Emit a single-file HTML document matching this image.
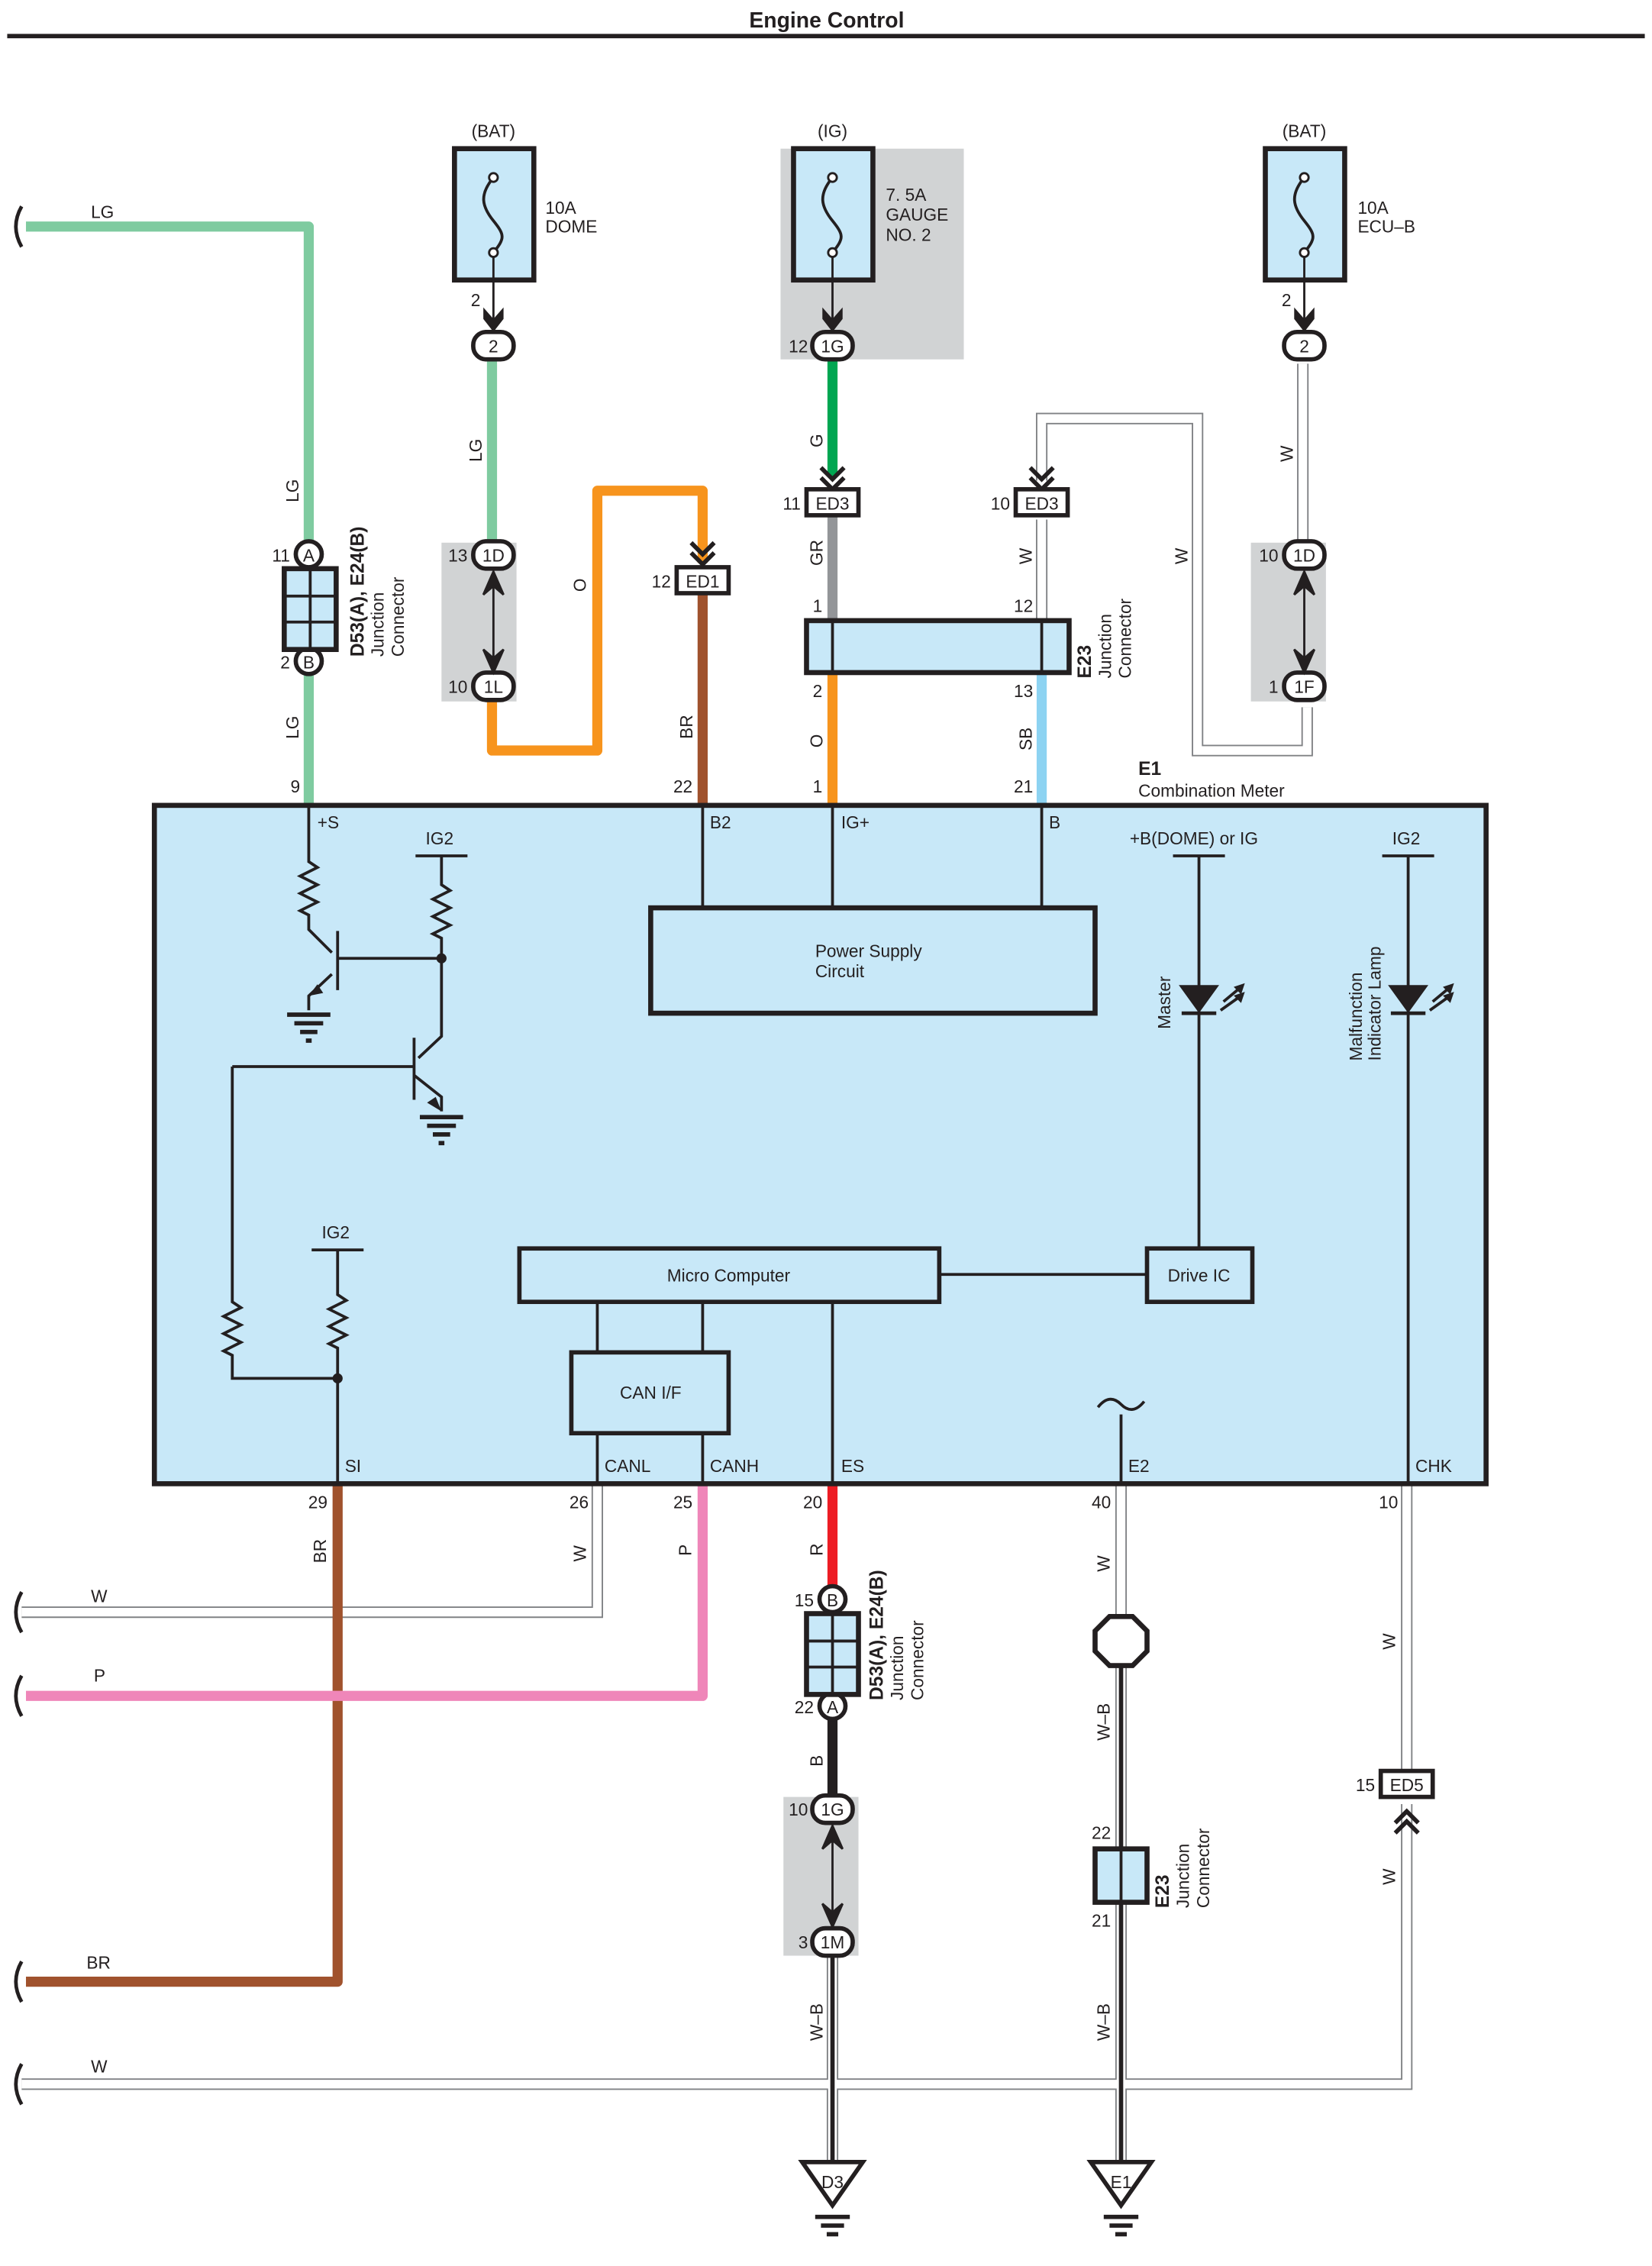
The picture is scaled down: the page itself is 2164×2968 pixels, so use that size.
<!DOCTYPE html>
<html><head><meta charset="utf-8"><style>
html,body{margin:0;padding:0;background:#fff}
svg{display:block}
text{font-family:"Liberation Sans",sans-serif;font-size:12px;fill:#231f20}
.b{font-weight:bold}
</style></head><body>
<svg width="2164" height="2968" viewBox="0 0 1145 1570" preserveAspectRatio="none" xmlns="http://www.w3.org/2000/svg">
<defs>
<g id="fuse"><rect x="-27" y="0" width="55" height="91" fill="#c8e8f8" stroke="#231f20" stroke-width="3.5"/><path d="M0,20 C-10,32 -8,40 0,50 C8,60 8,62 0,72" fill="none" stroke="#231f20" stroke-width="2"/><circle cx="0" cy="20" r="3" fill="#fff" stroke="#231f20" stroke-width="1.5"/><circle cx="0" cy="72" r="3" fill="#fff" stroke="#231f20" stroke-width="1.5"/><line x1="0" y1="75" x2="0" y2="125" stroke="#231f20" stroke-width="1.5"/><path d="M-7,110 L0,118 L7,110 L7,118 L0,127 L-7,118Z" fill="#231f20"/></g>
<g id="chev"><path d="M-8,-12 L0,-4 L8,-12 M-8,-5 L0,3 L8,-5" fill="none" stroke="#231f20" stroke-width="3"/></g>
<g id="gnd"><path d="M-21,0 L21,0 L0,30Z" fill="#fff" stroke="#231f20" stroke-width="3"/><line x1="-12" y1="38" x2="12" y2="38" stroke="#231f20" stroke-width="3"/><line x1="-8" y1="44" x2="8" y2="44" stroke="#231f20" stroke-width="3"/><line x1="-4" y1="50" x2="4" y2="50" stroke="#231f20" stroke-width="3"/></g>
<g id="sgnd"><line x1="-15" y1="0" x2="15" y2="0" stroke="#231f20" stroke-width="3"/><line x1="-10" y1="6" x2="10" y2="6" stroke="#231f20" stroke-width="3"/><line x1="-6" y1="12" x2="6" y2="12" stroke="#231f20" stroke-width="3"/><line x1="-2" y1="18" x2="2" y2="18" stroke="#231f20" stroke-width="3"/></g>
<g id="jc"><rect x="-18" y="0" width="36" height="56" fill="#c8e8f8" stroke="#231f20" stroke-width="3.5"/><line x1="0" y1="0" x2="0" y2="56" stroke="#231f20" stroke-width="2"/><line x1="-18" y1="19" x2="18" y2="19" stroke="#231f20" stroke-width="2"/><line x1="-18" y1="37" x2="18" y2="37" stroke="#231f20" stroke-width="2"/></g>
</defs>

<text x="573" y="19" text-anchor="middle" class="b" style="font-size:15px">Engine Control</text>
<line x1="5" y1="25" x2="1140" y2="25" stroke="#231f20" stroke-width="3"/>

<!-- gray backgrounds -->
<rect x="541" y="103" width="127" height="146" fill="#d1d3d4"/>
<rect x="306" y="376" width="52" height="110" fill="#d1d3d4"/>
<rect x="867" y="376" width="52" height="110" fill="#d1d3d4"/>
<rect x="543" y="1245" width="52" height="110" fill="#d1d3d4"/>

<!-- W wires (double) -->
<g fill="none" stroke="#808285" stroke-width="8">
<path d="M722,333 V290 H830 V520 H906 V490"/><path d="M722,360 V430"/><path d="M903,252 V380"/>
<path d="M414,1028 V1117 H15"/><path d="M777,1028 V1120"/><path d="M975,1028 V1228"/><path d="M975,1250 V1444 H15"/>
<path d="M577,1355 V1497"/><path d="M777,1150 V1497"/>
</g>
<g fill="none" stroke="#fff" stroke-width="6">
<path d="M722,333 V290 H830 V520 H906 V490"/><path d="M722,360 V430"/><path d="M903,252 V380"/>
<path d="M414,1028 V1117 H15"/><path d="M777,1028 V1120"/><path d="M975,1028 V1228"/><path d="M975,1250 V1444 H15"/>
<path d="M577,1355 V1497"/><path d="M777,1150 V1497"/>
</g>
<g fill="none" stroke="#231f20" stroke-width="3"><path d="M577,1355 V1497"/><path d="M777,1150 V1497"/></g>

<!-- colored wires -->
<g fill="none" stroke-width="7" stroke-linejoin="round">
<path d="M18,157 H214 V557" stroke="#7fcba0"/>
<path d="M341,250 V380" stroke="#7fcba0"/>
<path d="M341,486 V520 H414 V340 H487 V390" stroke="#f7941d"/>
<path d="M487,412 V557" stroke="#a0522d"/>
<path d="M577,250 V330" stroke="#00a651"/>
<path d="M577,358 V430" stroke="#939598"/>
<path d="M577,466 V557" stroke="#f7941d"/>
<path d="M722,466 V557" stroke="#8dd3f2"/>
<path d="M234,1028 V1373 H18" stroke="#a0522d"/>
<path d="M487,1028 V1175 H18" stroke="#ef86b9"/>
<path d="M577,1028 V1105" stroke="#ed1c24"/>
<path d="M577,1190 V1245" stroke="#231f20"/>
</g>

<!-- squiggles -->
<g fill="none" stroke="#231f20" stroke-width="2.5">
<path d="M15,143 q-8,14 0,28"/><path d="M15,1103 q-8,14 0,28"/><path d="M15,1161 q-8,14 0,28"/><path d="M15,1359 q-8,14 0,28"/><path d="M15,1430 q-8,14 0,28"/>
</g>
<text x="63" y="151">LG</text><text x="63" y="1110">W</text><text x="65" y="1165">P</text><text x="60" y="1364">BR</text><text x="63" y="1436">W</text>

<!-- fuses -->
<text x="342" y="95" text-anchor="middle">(BAT)</text><use href="#fuse" x="342" y="103"/>
<text x="378" y="148">10A</text><text x="378" y="161">DOME</text>
<text x="577" y="95" text-anchor="middle">(IG)</text><use href="#fuse" x="577" y="103"/>
<text x="614" y="139">7. 5A</text><text x="614" y="153">GAUGE</text><text x="614" y="167">NO. 2</text>
<text x="904" y="95" text-anchor="middle">(BAT)</text><use href="#fuse" x="904" y="103"/>
<text x="941" y="148">10A</text><text x="941" y="161">ECU–B</text>

<!-- oval connectors -->
<g fill="#fff" stroke="#231f20" stroke-width="3">
<rect x="328" y="230" width="28" height="19" rx="9"/><rect x="563" y="230" width="28" height="19" rx="9"/><rect x="890" y="230" width="28" height="19" rx="9"/>
<rect x="328" y="375" width="28" height="19" rx="9"/><rect x="328" y="466" width="28" height="19" rx="9"/>
<rect x="890" y="375" width="28" height="19" rx="9"/><rect x="890" y="466" width="28" height="19" rx="9"/>
<rect x="563" y="1244" width="28" height="19" rx="9"/><rect x="563" y="1336" width="28" height="19" rx="9"/>
<circle cx="214" cy="384" r="9"/><circle cx="214" cy="458" r="9"/><circle cx="577" cy="1108" r="9"/><circle cx="577" cy="1182" r="9"/>
</g>
<g text-anchor="middle">
<text x="342" y="244">2</text><text x="577" y="244">1G</text><text x="904" y="244">2</text>
<text x="342" y="389">1D</text><text x="342" y="480">1L</text><text x="904" y="389">1D</text><text x="904" y="480">1F</text>
<text x="577" y="1258">1G</text><text x="577" y="1350">1M</text>
<text x="214" y="389">A</text><text x="214" y="463">B</text><text x="577" y="1113">B</text><text x="577" y="1187">A</text>
</g>
<text x="333" y="212" text-anchor="end">2</text><text x="895" y="212" text-anchor="end">2</text>
<text x="560" y="244" text-anchor="end">12</text>
<text x="324" y="389" text-anchor="end">13</text><text x="324" y="480" text-anchor="end">10</text>
<text x="886" y="389" text-anchor="end">10</text><text x="886" y="480" text-anchor="end">1</text>
<text x="560" y="1258" text-anchor="end">10</text><text x="560" y="1350" text-anchor="end">3</text>
<text x="201" y="389" text-anchor="end">11</text><text x="201" y="463" text-anchor="end">2</text>
<text x="564" y="1113" text-anchor="end">15</text><text x="564" y="1187" text-anchor="end">22</text>

<!-- bidirectional arrows in gray boxes -->
<g stroke="#231f20" stroke-width="1.5" fill="#231f20">
<line x1="342" y1="396" x2="342" y2="465"/><path d="M335,412 L342,396 L349,412 L342,406Z"/><path d="M335,450 L342,466 L349,450 L342,456Z"/>
<line x1="904" y1="396" x2="904" y2="465"/><path d="M897,412 L904,396 L911,412 L904,406Z"/><path d="M897,450 L904,466 L911,450 L904,456Z"/>
<line x1="577" y1="1265" x2="577" y2="1335"/><path d="M570,1281 L577,1265 L584,1281 L577,1275Z"/><path d="M570,1319 L577,1335 L584,1319 L577,1325Z"/>
</g>

<!-- junction D53 -->
<use href="#jc" x="215" y="394"/><use href="#jc" x="577" y="1118"/>
<g transform="translate(252,455) rotate(-90)"><text class="b" style="font-size:13px">D53(A), E24(B)</text><text y="14">Junction</text><text y="28">Connector</text></g>
<g transform="translate(612,1178) rotate(-90)"><text class="b" style="font-size:13px">D53(A), E24(B)</text><text y="14">Junction</text><text y="28">Connector</text></g>

<!-- ED connectors -->
<use href="#chev" x="487" y="388"/><use href="#chev" x="577" y="336"/><use href="#chev" x="722" y="336"/>
<g fill="#fff" stroke="#231f20" stroke-width="3">
<rect x="469" y="393" width="36" height="18"/><rect x="559" y="339" width="36" height="18"/><rect x="704" y="339" width="36" height="18"/><rect x="957" y="1227" width="36" height="18"/>
</g>
<use href="#chev" x="975" y="1258" transform="rotate(180 975 1258)"/>
<g text-anchor="middle"><text x="487" y="407">ED1</text><text x="577" y="353">ED3</text><text x="722" y="353">ED3</text><text x="975" y="1241">ED5</text></g>
<text x="465" y="407" text-anchor="end">12</text><text x="555" y="353" text-anchor="end">11</text><text x="700" y="353" text-anchor="end">10</text><text x="953" y="1241" text-anchor="end">15</text>

<!-- E23 junction top -->
<rect x="559" y="430" width="182" height="36" fill="#c8e8f8" stroke="#231f20" stroke-width="3.5"/>
<line x1="577" y1="430" x2="577" y2="466" stroke="#231f20" stroke-width="2"/><line x1="722" y1="430" x2="722" y2="466" stroke="#231f20" stroke-width="2"/>
<g transform="translate(756,470) rotate(-90)"><text class="b" style="font-size:13px">E23</text><text y="14">Junction</text><text y="28">Connector</text></g>
<text x="570" y="424" text-anchor="end">1</text><text x="716" y="424" text-anchor="end">12</text>
<text x="570" y="483" text-anchor="end">2</text><text x="716" y="483" text-anchor="end">13</text>

<!-- E23 lower -->
<rect x="759" y="1281" width="36" height="37" fill="#c8e8f8" stroke="#231f20" stroke-width="3.5"/>
<line x1="777" y1="1281" x2="777" y2="1318" stroke="#231f20" stroke-width="2"/>
<g transform="translate(810,1322) rotate(-90)"><text class="b" style="font-size:13px">E23</text><text y="14">Junction</text><text y="28">Connector</text></g>
<text x="770" y="1274" text-anchor="end">22</text><text x="770" y="1335" text-anchor="end">21</text>

<!-- octagon -->
<path d="M769,1120 L785,1120 L795,1130 L795,1144 L785,1154 L769,1154 L759,1144 L759,1130Z" fill="#fff" stroke="#231f20" stroke-width="3.5"/>

<!-- grounds -->
<use href="#gnd" x="577" y="1498"/><text x="577" y="1516" text-anchor="middle">D3</text>
<use href="#gnd" x="777" y="1498"/><text x="777" y="1516" text-anchor="middle">E1</text>

<!-- wire labels (vertical) -->
<g>
<text transform="translate(207,348) rotate(-90)">LG</text>
<text transform="translate(207,512) rotate(-90)">LG</text>
<text transform="translate(334,320) rotate(-90)">LG</text>
<text transform="translate(406,410) rotate(-90)">O</text>
<text transform="translate(480,512) rotate(-90)">BR</text>
<text transform="translate(570,310) rotate(-90)">G</text>
<text transform="translate(570,392) rotate(-90)">GR</text>
<text transform="translate(570,518) rotate(-90)">O</text>
<text transform="translate(715,520) rotate(-90)">SB</text>
<text transform="translate(715,391) rotate(-90)">W</text>
<text transform="translate(823,391) rotate(-90)">W</text>
<text transform="translate(896,320) rotate(-90)">W</text>
<text transform="translate(226,1083) rotate(-90)">BR</text>
<text transform="translate(406,1082) rotate(-90)">W</text>
<text transform="translate(479,1078) rotate(-90)">P</text>
<text transform="translate(570,1078) rotate(-90)">R</text>
<text transform="translate(570,1224) rotate(-90)">B</text>
<text transform="translate(570,1414) rotate(-90)">W–B</text>
<text transform="translate(769,1089) rotate(-90)">W</text>
<text transform="translate(769,1206) rotate(-90)">W–B</text>
<text transform="translate(769,1414) rotate(-90)">W–B</text>
<text transform="translate(967,1143) rotate(-90)">W</text>
<text transform="translate(967,1306) rotate(-90)">W</text>
</g>

<!-- pin numbers at box -->
<g text-anchor="end">
<text x="208" y="549">9</text><text x="480" y="549">22</text><text x="570" y="549">1</text><text x="716" y="549">21</text>
<text x="227" y="1045">29</text><text x="408" y="1045">26</text><text x="480" y="1045">25</text><text x="570" y="1045">20</text><text x="770" y="1045">40</text><text x="969" y="1045">10</text>
</g>
<text x="789" y="537" class="b" style="font-size:13px">E1</text><text x="789" y="552">Combination Meter</text>

<!-- main box -->
<rect x="107" y="558" width="923" height="470" fill="#c8e8f8" stroke="#231f20" stroke-width="3.5"/>

<g fill="none" stroke="#231f20" stroke-width="2">
<!-- +S branch -->
<path d="M214,558 V597 l6,4 -12,6 12,6 -12,6 12,6 -12,6 6,3 V644 L230,660"/>
<line x1="234" y1="645" x2="234" y2="686"/>
<path d="M230,675 L214,690 V700"/>
<line x1="234" y1="664" x2="306" y2="664"/>
<line x1="288" y1="593" x2="324" y2="593"/><path d="M306,593 V613 l6,4 -12,6 12,6 -12,6 12,6 -12,6 6,3 V718 L290,733"/>
<line x1="287" y1="719" x2="287" y2="762"/>
<path d="M287,745 L306,760 V770"/>
<line x1="161" y1="739" x2="287" y2="739"/>
<path d="M161,739 V902 l6,4 -12,6 12,6 -12,6 12,6 -12,6 6,3 V955 H234"/>
<line x1="216" y1="866" x2="252" y2="866"/><path d="M234,866 V897 l6,4 -12,6 12,6 -12,6 12,6 -12,6 6,3 V1028"/>
<!-- power supply -->
<line x1="487" y1="558" x2="487" y2="629"/><line x1="577" y1="558" x2="577" y2="629"/><line x1="722" y1="558" x2="722" y2="629"/>
<!-- master -->
<line x1="813" y1="593" x2="849" y2="593"/><line x1="831" y1="593" x2="831" y2="865"/>
<line x1="958" y1="593" x2="994" y2="593"/><line x1="976" y1="593" x2="976" y2="1028"/>
<!-- micro -->
<line x1="651" y1="883" x2="795" y2="883"/>
<line x1="414" y1="902" x2="414" y2="937"/><line x1="487" y1="902" x2="487" y2="937"/>
<line x1="414" y1="993" x2="414" y2="1028"/><line x1="487" y1="993" x2="487" y2="1028"/>
<line x1="577" y1="902" x2="577" y2="1028"/>
<line x1="777" y1="980" x2="777" y2="1028"/>
<path d="M761,975 q8,-10 16,-2 q8,8 16,-2"/>
</g>
<circle cx="306" cy="664" r="3.5" fill="#231f20"/><circle cx="234" cy="955" r="3.5" fill="#231f20"/>
<path d="M214,690 L220,682 L224,688Z" fill="#231f20"/><path d="M306,770 L302,760 L296,764Z" fill="#231f20"/>
<use href="#sgnd" x="214" y="703"/><use href="#sgnd" x="306" y="774"/>

<rect x="451" y="629" width="308" height="73" fill="none" stroke="#231f20" stroke-width="3.5"/>
<text x="565" y="663">Power Supply</text><text x="565" y="677">Circuit</text>
<rect x="360" y="865" width="291" height="37" fill="none" stroke="#231f20" stroke-width="3"/>
<text x="505" y="888" text-anchor="middle">Micro Computer</text>
<rect x="795" y="865" width="73" height="37" fill="none" stroke="#231f20" stroke-width="3"/>
<text x="831" y="888" text-anchor="middle">Drive IC</text>
<rect x="396" y="937" width="109" height="56" fill="none" stroke="#231f20" stroke-width="3"/>
<text x="451" y="969" text-anchor="middle">CAN I/F</text>

<!-- LEDs -->
<g fill="#231f20" stroke="#231f20">
<path d="M818,683 L844,683 L831,701Z"/><line x1="819" y1="702" x2="843" y2="702" stroke-width="2.5"/>
<path d="M848,694 L860,684 M846,700 L860,690" stroke-width="2"/><path d="M862,682 L856,684 L860,688Z"/><path d="M862,688 L856,690 L860,694Z"/>
<path d="M963,683 L989,683 L976,701Z"/><line x1="964" y1="702" x2="988" y2="702" stroke-width="2.5"/>
<path d="M993,694 L1005,684 M991,700 L1005,690" stroke-width="2"/><path d="M1007,682 L1001,684 L1005,688Z"/><path d="M1007,688 L1001,690 L1005,694Z"/>
</g>
<text transform="translate(811,713) rotate(-90)">Master</text>
<text transform="translate(944,735) rotate(-90)">Malfunction</text><text transform="translate(957,735) rotate(-90)">Indicator Lamp</text>

<!-- internal labels -->
<text x="220" y="574">+S</text><text x="295" y="585">IG2</text><text x="492" y="574">B2</text><text x="583" y="574">IG+</text><text x="727" y="574">B</text>
<text x="783" y="585">+B(DOME) or IG</text><text x="965" y="585">IG2</text>
<text x="223" y="858">IG2</text>
<text x="239" y="1020">SI</text><text x="419" y="1020">CANL</text><text x="492" y="1020">CANH</text><text x="583" y="1020">ES</text><text x="782" y="1020">E2</text><text x="981" y="1020">CHK</text>
</svg>
</body></html>
